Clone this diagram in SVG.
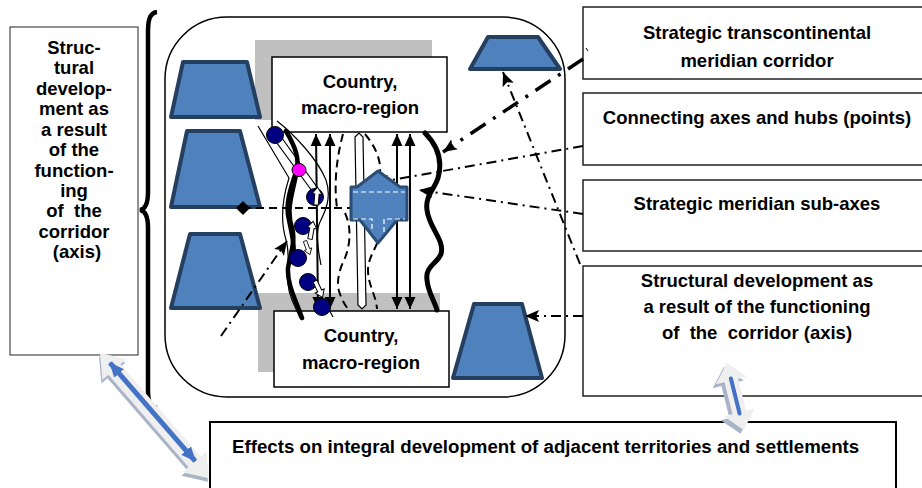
<svg xmlns="http://www.w3.org/2000/svg" width="922" height="488" viewBox="0 0 922 488">
<defs>
<style>
.t{font-family:"Liberation Sans",Arial,sans-serif;font-weight:bold;fill:#000;}
.l{font-size:18.5px;text-anchor:middle;}
.r{font-size:18.5px;text-anchor:middle;}
.box{fill:#fff;stroke:#222;stroke-width:1.5;}
.trap{fill:#4F81BD;stroke:#243F60;stroke-width:4;stroke-linejoin:round;}
.gray{fill:#C0C0C0;}
.va{stroke:#000;stroke-width:2;fill:none;marker-start:url(#ah);marker-end:url(#ah);}
.dd{stroke:#000;stroke-width:2;fill:none;stroke-dasharray:10 5 2 5;marker-end:url(#ah2);}
.dash{stroke:#000;stroke-width:2;fill:none;stroke-dasharray:8 5;}
.thick{stroke:#000;stroke-width:4.5;fill:none;stroke-linecap:round;}
.thin{stroke:#000;stroke-width:1.2;fill:none;}
.c{fill:#000080;stroke:#000;stroke-width:1;}
.wa{fill:#fff;stroke:#000;stroke-width:1;}
</style>
<marker id="ah" viewBox="0 0 12 12" refX="12" refY="6" markerWidth="12" markerHeight="12" markerUnits="userSpaceOnUse" orient="auto-start-reverse"><path d="M0,0.5 L12,6 L0,11.5 z" fill="#000"/></marker>
<marker id="ah2" viewBox="0 0 14 12" refX="14" refY="6" markerWidth="14" markerHeight="12" markerUnits="userSpaceOnUse" orient="auto"><path d="M0,0 L14,6 L0,12 L3,6 z" fill="#000"/></marker>
<marker id="bh" viewBox="0 0 14 12" refX="13" refY="6" markerWidth="15" markerHeight="13" markerUnits="userSpaceOnUse" orient="auto-start-reverse"><path d="M0,0 L14,6 L0,12 z" fill="#4472C4"/></marker>
<path id="wa" d="M-2.2,0 V-11 H-5 L0,-18 L5,-11 H2.2 V0 Z"/>
</defs>

<rect width="922" height="488" fill="#fff"/>

<!-- left box -->
<g id="left-box">
<rect x="10" y="27" width="128" height="328" class="box" style="stroke-width:1"/>
<text class="t l" x="74" y="54">Struc-</text>
<text class="t l" x="74" y="74">tural</text>
<text class="t l" x="74" y="95">develop-</text>
<text class="t l" x="74" y="115">ment as</text>
<text class="t l" x="74" y="136">a result</text>
<text class="t l" x="74" y="156">of the</text>
<text class="t l" x="74" y="177">function-</text>
<text class="t l" x="74" y="197">ing</text>
<text class="t l" x="74" y="217" xml:space="preserve">of  the</text>
<text class="t l" x="74" y="238">corridor</text>
<text class="t l" x="77" y="258">(axis)</text>
</g>

<!-- brace -->
<g id="brace">
<path d="M157,12 C149,13 148,22 148,32 L148,192 C148,203 146,209 140,210 C146,211 148,217 148,228 L148,390 C148,401 150,407 157,408" fill="none" stroke="#000" stroke-width="4.5"/>
</g>

<!-- corridor frame -->
<g id="corridor-frame">
<rect x="165" y="17" width="400" height="380" rx="62" ry="62" fill="#fff" stroke="#000" stroke-width="1.5"/>
<rect x="255" y="40" width="177" height="80" class="gray"/>
<rect x="258" y="293" width="182" height="79" class="gray"/>
</g>

<g id="country-top">
<rect x="272" y="57" width="175" height="75" fill="#fff" stroke="#000" stroke-width="1.5"/>
<text class="t r" x="360" y="88">Country,</text>
<text class="t r" x="360" y="114">macro-region</text>
</g>
<g id="country-bottom">
<rect x="274" y="311" width="175" height="76" fill="#fff" stroke="#000" stroke-width="1.5"/>
<text class="t r" x="361" y="342">Country,</text>
<text class="t r" x="361" y="369">macro-region</text>
</g>

<!-- hubs (trapezoids) -->
<g id="hub-1"><polygon class="trap" points="183,62 247,62 260,117 171,117"/></g>
<g id="hub-2"><polygon class="trap" points="187,131 240,131 260,207 171,207"/></g>
<g id="hub-3"><polygon class="trap" points="190,234 240,234 260,308 171,308"/></g>
<g id="hub-4"><polygon class="trap" points="488,37 538,37 560,69 470,69"/></g>
<g id="hub-5"><polygon class="trap" points="474,304 522,304 542,378 453,378"/></g>

<!-- right boxes -->
<g id="box-corridor">
<rect x="583" y="7" width="342" height="72" class="box"/>
<text class="t r" x="757" y="39">Strategic transcontinental</text>
<text class="t r" x="757" y="67">meridian corridor</text>
</g>
<g id="box-axes">
<rect x="583" y="93" width="342" height="72" class="box"/>
<text class="t r" x="757" y="124">Connecting axes and hubs (points)</text>
</g>
<g id="box-subaxes">
<rect x="583" y="180" width="342" height="71" class="box"/>
<text class="t r" x="757" y="210">Strategic meridian sub-axes</text>
</g>
<g id="box-structural">
<rect x="583" y="266" width="342" height="130" class="box"/>
<text class="t r" x="757" y="287">Structural development as</text>
<text class="t r" x="757" y="313">a result of the functioning</text>
<text class="t r" x="757" y="339" xml:space="preserve">of  the  corridor (axis)</text>
</g>

<g id="box-effects">
<rect x="210" y="422" width="686" height="80" fill="#fff" stroke="#000" stroke-width="2"/>
<text class="t" x="232" y="453" style="font-size:18.7px">Effects on integral development of adjacent territories and settlements</text>
</g>

<!-- connectors -->
<g id="connectors">
<!-- vertical double arrows -->
<line class="va" x1="316" y1="134" x2="318" y2="309"/>
<line class="va" x1="330" y1="134" x2="330" y2="309"/>
<line class="va" x1="397" y1="134" x2="397" y2="309"/>
<line class="va" x1="410" y1="134" x2="410" y2="309"/>

<!-- hollow white double arrow -->
<polygon points="355,137 359,133 363,137 366,305 362,309 358,305" fill="#fff" stroke="#000" stroke-width="1.2"/>

<!-- dashed curves -->
<path class="dash" d="M343,134 C336,160 334,185 337,208"/>
<path class="dash" d="M243,208 H350"/>
<path class="dash" d="M345,213 C352,228 350,245 345,258 C338,272 336,285 340,294 C342,300 345,305 348,309"/>
<path class="dash" d="M365,134 C374,145 381,158 380,172"/>
<path class="dash" d="M380,230 C380,245 368,255 368,270 C368,285 376,295 377,309"/>

<!-- wavy thick line -->
<path class="thick" style="stroke-width:5" d="M425,133 C437,145 443,160 438,178 C434,190 425,196 427,210 C429,228 445,240 441,254 C437,264 425,266 427,280 C428,292 434,300 437,310"/>

<!-- dash-dot connectors from right boxes -->
<path d="M583,59 L443,152" fill="none" stroke="#000" stroke-width="3.5" stroke-dasharray="18 9 3 9" marker-end="url(#ah2)"/>
<line x1="586" y1="48" x2="588" y2="51" stroke="#000" stroke-width="1"/>
<path class="dd" d="M583,146 L375,183"/>
<path class="dd" d="M583,214 L419,190"/>
<path class="dd" d="M580,264 L503,72"/>
<path class="dd" d="M583,316 L525,316"/>
<path class="dd" d="M221,336 L287,241"/>

<!-- diamond -->
<rect x="238" y="203" width="10" height="10" transform="rotate(45 243 208)" fill="#000"/>

<!-- blue sub-axes symbol -->
<polygon points="351,187 357,187 378,171 400,187 407,187 407,220 397,220 378,243 360,220 351,220" fill="#4F81BD" stroke="#2C4D75" stroke-width="3" stroke-linejoin="round"/>
<path d="M353,192 H405 M353,219 H372 V232 M384,232 V219 H405" fill="none" stroke="#fff" stroke-width="1.2" stroke-dasharray="5 3"/>

<!-- left corridor lines -->
<path class="thick" d="M286,131 C296,148 300,160 296,172 C290,190 285,205 289,220 C292,235 296,250 292,262"/>
<path class="thick" d="M296,175 C292,195 286,210 292,228 C296,240 290,255 288,268 C287,285 296,300 302,318"/>
<path class="thin" d="M258,126 L289,178 C282,200 280,220 286,240 C292,260 283,280 292,300 L300,318"/>
<path class="thin" d="M277,121 C295,135 318,160 326,180 C332,198 325,212 320,222 C315,232 318,250 321,265"/>
<path class="thin" d="M322,297 L333,317"/>
<path class="thin" d="M274,139 L312,191"/>
<path class="thin" d="M279,134 L317,187"/>

<!-- hubs chain -->
<circle class="c" cx="275" cy="135" r="8.5"/>
<ellipse cx="299" cy="170" rx="7" ry="6.5" fill="#FF00FF" stroke="#000" stroke-width="1"/>
<circle class="c" cx="315" cy="197" r="8.5"/>
<circle class="c" cx="303" cy="226" r="8.5"/>
<circle class="c" cx="298" cy="258" r="8.5"/>
<circle class="c" cx="308" cy="282" r="8.5"/>
<circle class="c" cx="322" cy="307" r="8.5"/>

<use href="#wa" class="wa" transform="translate(316,205) rotate(5)"/>
<use href="#wa" class="wa" transform="translate(310,239) rotate(10)"/>
<use href="#wa" class="wa" transform="translate(305,241) rotate(160) scale(0.8)"/>
<use href="#wa" class="wa" transform="translate(315,281) rotate(155)"/>
</g>

<!-- 3D double arrows -->
<g id="arrow-effects-left">
<g transform="translate(100,353) rotate(49)">
<polygon points="0,0 22,-16 22,-8 144,-8 144,-16 166,0 144,16 144,8 22,8 22,16" fill="#A9B4C6" transform="translate(2,3)"/>
<polygon points="0,0 22,-16 22,-8 144,-8 144,-16 166,0 144,16 144,8 22,8 22,16" fill="#EFEFEF"/>
<line x1="14" y1="-1" x2="144" y2="-1" stroke="#4472C4" stroke-width="5" marker-start="url(#bh)" marker-end="url(#bh)"/>
</g>
</g>
<g id="arrow-effects-right">
<g transform="translate(727,363) rotate(76)">
<polygon points="0,0 18,-16 18,-7 51,-7 51,-16 69,0 51,16 51,7 18,7 18,16" fill="#A9B4C6" transform="translate(3,4)"/>
<polygon points="0,0 18,-16 18,-7 51,-7 51,-16 69,0 51,16 51,7 18,7 18,16" fill="#EFEFEF"/>
<line x1="16" y1="0" x2="52" y2="0" stroke="#4472C4" stroke-width="4" stroke-linecap="round"/>
</g>
</g>
</svg>
